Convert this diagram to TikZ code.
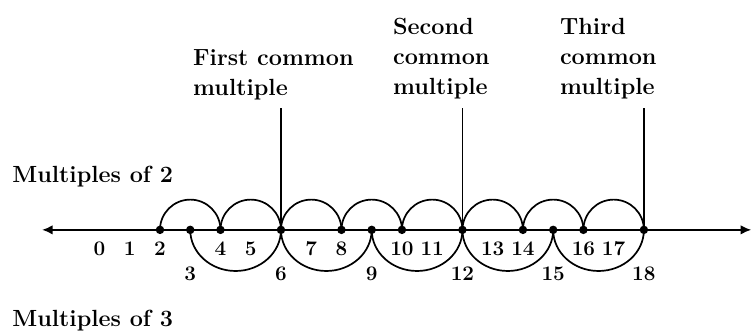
\documentclass[tikz,border=0pt]{standalone}
\usetikzlibrary{arrows.meta}
\tikzset{
    numline/.style={line width=1.8pt, {Latex[length=10pt,width=9pt]}-{Latex[length=10pt,width=9pt]}},
    hop/.style={line width=1.6pt},
    marker/.style={line width=1.6pt},
    numlabel/.style={font=\fontsize{19.5}{22}\selectfont\bfseries, inner sep=0pt, anchor=base},
    caption/.style={font=\fontsize{22}{28.45}\selectfont\bfseries, align=left, inner sep=0pt, anchor=north west},
}

\begin{document}
\begin{tikzpicture}

    \useasboundingbox (-3.29, -3.40) rectangle (21.64, 7.60);

    % Points on the line
    \foreach \n in {0,...,18} {
        \coordinate (p\n) at (\n, 0);
    }
    \coordinate (tailL) at (-1.90, 0);
    \coordinate (tailR) at (21.55, 0);

    % Number line
    \draw[numline] (tailL) -- (tailR);

    % Hops of 2 (above)
    \foreach \n in {2,4,...,16} {
        \draw[hop] (p\n) arc[start angle=180, end angle=0, radius=1];
    }

    % Hops of 3 (below)
    \foreach \n in {3,6,...,15} {
        \draw[hop] (p\n) arc[start angle=180, end angle=360, x radius=1.5, y radius=1.36];
    }

    % Dots
    \foreach \n in {2,3,4,6,8,9,10,12,14,15,16,18} {
        \fill (p\n) circle (0.14);
    }

    % Numbers
    \foreach \n in {0,1,2,4,5,7,8,10,11,13,14,16,17} {
        \node[numlabel] (n\n) at ([yshift=-0.84cm]p\n) {\n};
    }
    \foreach \n in {3,6,9,12,15,18} {
        \node[numlabel] (n\n) at ([yshift=-1.66cm]p\n) {\n};
    }

    % Common multiples
    \foreach \n in {6,12,18} {
        \coordinate (top\n) at (\n, 4.03);
        \draw[marker] (p\n) -- (top\n);
    }
    \node[caption] (first) at (3.09, 5.98) {First common\\multiple};
    \node[caption] (second) at (9.70, 7.01) {Second\\common\\multiple};
    \node[caption] (third) at (15.22, 7.01) {Third\\common\\multiple};

    % Rows
    \node[caption, anchor=base west] (twos) at (-2.89, 1.55) {Multiples of 2};
    \node[caption, anchor=base west] (threes) at (-2.89, -3.21) {Multiples of 3};

\end{tikzpicture}
\end{document}
